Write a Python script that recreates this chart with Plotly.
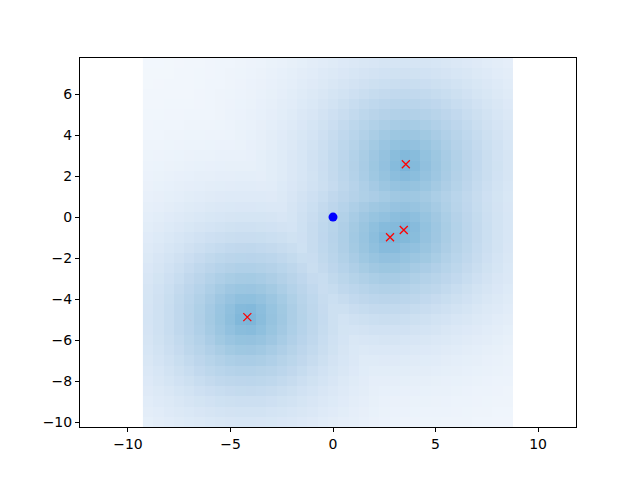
import numpy as np
import plotly.graph_objects as go

# Observed points (red crosses) and the reference point (blue dot)
pts_x = [3.55, 3.45, 2.78, -4.18]
pts_y = [2.58, -0.63, -0.98, -4.88]
ref_x = [0.0]
ref_y = [0.0]

# Heatmap grid (image extent)
grid_x0, grid_x1 = -9.27, 8.78
grid_y0, grid_y1 = -10.24, 7.76
n_cells = 36
kernel_length = 2.8

dx = (grid_x1 - grid_x0) / n_cells
dy = (grid_y1 - grid_y0) / n_cells
xc = grid_x0 + dx * (np.arange(n_cells) + 0.5)
yc = grid_y0 + dy * (np.arange(n_cells) + 0.5)
XX, YY = np.meshgrid(xc, yc)
Z = np.zeros_like(XX)
for px, py in zip(pts_x, pts_y):
    d = np.sqrt((XX - px) ** 2 + (YY - py) ** 2)
    Z = np.maximum(Z, np.exp(-d / kernel_length))

colorscale = [
    [0.0, "rgb(244,248,253)"],
    [0.12, "rgb(222,234,247)"],
    [0.3, "rgb(192,216,237)"],
    [0.55, "rgb(160,200,226)"],
    [0.8, "rgb(136,188,220)"],
    [1.0, "rgb(120,179,216)"],
]

fig = go.Figure()
fig.add_trace(go.Heatmap(
    z=Z, x0=xc[0], dx=dx, y0=yc[0], dy=dy,
    colorscale=colorscale, showscale=False, zmin=0, zmax=1, hoverinfo="skip",
))
fig.add_trace(go.Scatter(
    x=pts_x, y=pts_y, mode="markers",
    marker=dict(symbol="x-thin", size=8, line=dict(color="red", width=1.3), color="red"),
    showlegend=False,
))
fig.add_trace(go.Scatter(
    x=ref_x, y=ref_y, mode="markers",
    marker=dict(symbol="circle", size=9, color="blue"),
    showlegend=False,
))

axis_common = dict(
    showgrid=False, zeroline=False, showline=True, linecolor="black", linewidth=1,
    mirror=True, ticks="outside", ticklen=4, tickwidth=1, tickcolor="black",
    tickfont=dict(family="DejaVu Sans", size=14, color="black"),
)
fig.update_xaxes(range=[-12.34, 11.85], tickvals=[-10, -5, 0, 5, 10],
                 ticktext=["\u221210", "\u22125", "0", "5", "10"], **axis_common)
fig.update_yaxes(range=[-10.24, 7.76], tickvals=[-10, -8, -6, -4, -2, 0, 2, 4, 6],
                 ticktext=["\u221210", "\u22128", "\u22126", "\u22124", "\u22122", "0", "2", "4", "6"],
                 **axis_common)
fig.update_layout(
    width=640, height=480,
    margin=dict(l=72, r=72, t=50, b=61, pad=0),
    paper_bgcolor="white", plot_bgcolor="white",
)
fig.write_html("out.html")
